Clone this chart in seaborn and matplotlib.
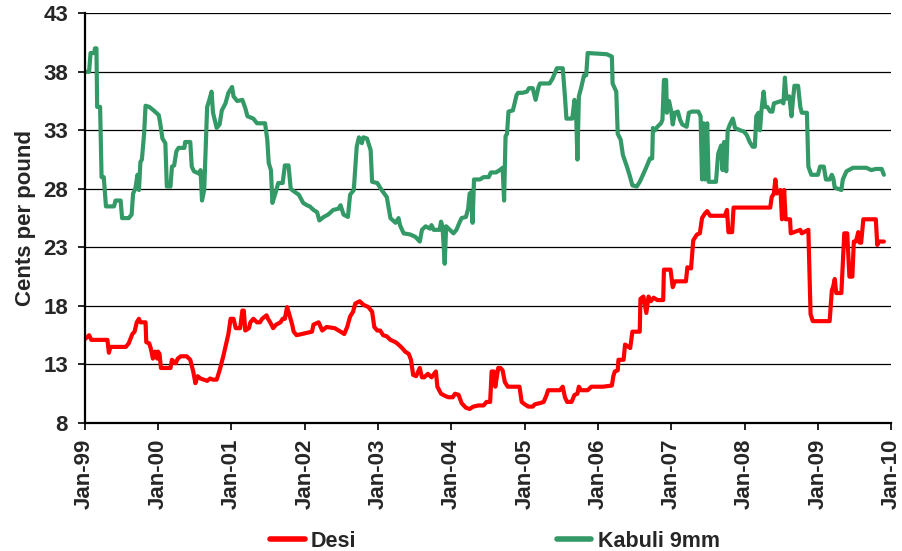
import numpy as np
import pandas as pd
import matplotlib
matplotlib.use("Agg")
import matplotlib.pyplot as plt
import matplotlib.dates as mdates
import seaborn as sns

# decimal-year positions and prices (cents per pound)
kabuli_t = [1999.01, 1999.06, 1999.08, 1999.13, 1999.14, 1999.16, 1999.17, 1999.21, 1999.23, 1999.26,
            1999.29, 1999.40, 1999.42, 1999.49, 1999.51, 1999.60, 1999.64, 1999.66, 1999.69, 1999.72,
            1999.74, 1999.76, 1999.78, 1999.81, 1999.83, 1999.88, 1999.94, 2000.01, 2000.03, 2000.06,
            2000.10, 2000.12, 2000.17, 2000.19, 2000.22, 2000.25, 2000.28, 2000.36, 2000.37, 2000.44,
            2000.46, 2000.49, 2000.56, 2000.58, 2000.60, 2000.63, 2000.67, 2000.70, 2000.73, 2000.75,
            2000.78, 2000.80, 2000.84, 2000.87, 2000.92, 2000.96, 2001.01, 2001.03, 2001.08, 2001.15,
            2001.19, 2001.22, 2001.30, 2001.35, 2001.46, 2001.49, 2001.51, 2001.54, 2001.56, 2001.60,
            2001.64, 2001.70, 2001.73, 2001.78, 2001.81, 2001.85, 2001.92, 2001.98, 2002.03, 2002.07,
            2002.12, 2002.17, 2002.20, 2002.26, 2002.32, 2002.39, 2002.46, 2002.49,
            2002.53, 2002.59, 2002.62, 2002.67, 2002.71, 2002.74, 2002.78, 2002.80, 2002.85, 2002.90,
            2002.92, 2002.99, 2003.05, 2003.12, 2003.17, 2003.24, 2003.28, 2003.30, 2003.35, 2003.44,
            2003.51, 2003.57, 2003.60, 2003.65, 2003.71, 2003.73, 2003.76, 2003.84, 2003.86, 2003.88,
            2003.91, 2003.93, 2003.98, 2004.03, 2004.07, 2004.11, 2004.14, 2004.20, 2004.23, 2004.25,
            2004.27, 2004.29, 2004.31, 2004.39, 2004.44, 2004.51, 2004.54, 2004.61, 2004.66, 2004.70,
            2004.72, 2004.74, 2004.76, 2004.78, 2004.84, 2004.89, 2004.91, 2004.97, 2005.03, 2005.06,
            2005.11, 2005.15, 2005.19, 2005.21, 2005.34, 2005.38, 2005.44, 2005.52, 2005.55, 2005.57,
            2005.65, 2005.68, 2005.70, 2005.72, 2005.74, 2005.77, 2005.81, 2005.84, 2005.86,
            2006.12, 2006.19, 2006.20, 2006.25, 2006.27, 2006.31, 2006.34, 2006.39, 2006.43, 2006.47,
            2006.53, 2006.57, 2006.60, 2006.65, 2006.71, 2006.74, 2006.75, 2006.78, 2006.81, 2006.86,
            2006.88, 2006.90, 2006.93, 2006.94, 2006.97, 2007.00, 2007.02, 2007.05, 2007.09, 2007.12,
            2007.15, 2007.21, 2007.24, 2007.28, 2007.37, 2007.40, 2007.42, 2007.44, 2007.46, 2007.49,
            2007.51, 2007.61, 2007.64, 2007.68, 2007.70, 2007.72, 2007.75, 2007.77, 2007.80, 2007.84,
            2007.87, 2007.94, 2007.99, 2008.03, 2008.07, 2008.11, 2008.14, 2008.16, 2008.19, 2008.21,
            2008.23, 2008.26, 2008.28, 2008.31, 2008.35, 2008.38, 2008.40, 2008.50, 2008.53, 2008.55,
            2008.57, 2008.61, 2008.64, 2008.66, 2008.68, 2008.73, 2008.76, 2008.78, 2008.85, 2008.87,
            2008.91, 2009.00, 2009.03, 2009.08, 2009.11, 2009.16, 2009.19, 2009.21, 2009.23, 2009.32,
            2009.34, 2009.39, 2009.48, 2009.66, 2009.73, 2009.79, 2009.87, 2009.90]
kabuli_v = [38.0, 38.0, 39.6, 39.6, 40.0, 40.0, 35.0, 35.0, 29.0, 29.0,
            26.5, 26.5, 27.0, 27.0, 25.5, 25.5, 25.8, 27.6, 28.0, 29.2,
            27.9, 30.3, 30.5, 32.7, 35.1, 35.0, 34.7, 34.3, 33.6, 32.3,
            31.9, 28.2, 28.2, 29.9, 30.0, 31.2, 31.5, 31.5, 32.0, 32.0,
            29.9, 29.5, 29.3, 29.6, 27.0, 27.9, 35.0, 35.6, 36.3, 34.5,
            33.7, 33.2, 33.5, 34.7, 35.3, 36.2, 36.7, 35.9, 35.5, 35.6,
            34.9, 34.2, 34.0, 33.6, 33.6, 32.2, 30.2, 29.6, 26.8, 27.6,
            28.5, 28.5, 30.0, 30.0, 28.0, 27.8, 27.5, 26.8, 26.6, 26.5,
            26.2, 26.0, 25.3, 25.6, 25.8, 26.2, 26.3, 26.6,
            25.8, 25.6, 27.5, 27.9, 31.6, 32.4, 31.9, 32.4, 32.3, 31.3,
            28.6, 28.5, 27.9, 27.3, 25.5, 25.1, 25.5, 24.9, 24.2, 24.1,
            23.9, 23.5, 24.5, 24.8, 24.6, 24.9, 24.5, 24.5, 25.2, 24.8,
            21.6, 24.8, 24.5, 24.2, 24.5, 25.1, 25.5, 25.6, 26.3, 27.6,
            27.7, 25.1, 28.8, 28.8, 29.0, 29.0, 29.4, 29.4, 29.6, 29.8,
            27.0, 32.5, 32.7, 34.6, 34.7, 36.0, 36.2, 36.2, 36.3, 36.6,
            36.6, 35.6, 36.7, 37.0, 37.0, 37.4, 38.3, 38.3, 35.9, 34.0,
            34.0, 35.6, 35.0, 30.5, 35.9, 36.6, 37.7, 37.7, 39.6,
            39.5, 39.3, 37.0, 36.3, 32.7, 32.2, 30.9, 30.0, 29.2, 28.3,
            28.2, 28.6, 29.0, 29.7, 30.6, 30.6, 33.2, 33.0, 33.3, 33.6,
            33.9, 37.3, 37.3, 34.5, 35.5, 34.6, 33.5, 34.5, 34.6, 33.9,
            33.5, 33.3, 34.5, 34.6, 34.6, 34.2, 28.8, 33.6, 28.8, 33.6,
            28.6, 28.6, 31.0, 31.7, 29.6, 32.0, 29.5, 33.0, 33.5, 34.0,
            33.2, 33.0, 32.9, 32.6, 32.0, 31.6, 31.6, 34.2, 34.5, 33.0,
            34.7, 36.3, 35.0, 35.0, 34.6, 34.6, 35.3, 35.5, 35.3, 37.5,
            35.7, 35.9, 34.2, 35.6, 36.8, 36.8, 35.0, 34.5, 34.5, 29.9,
            29.2, 29.2, 29.9, 29.9, 28.8, 28.8, 29.2, 28.9, 28.1, 27.9,
            28.8, 29.5, 29.8, 29.8, 29.6, 29.7, 29.7, 29.2]

desi_t = [1999.01, 1999.06, 1999.09, 1999.31, 1999.33, 1999.35, 1999.56, 1999.60, 1999.65, 1999.68,
          1999.71, 1999.74, 1999.76, 1999.83, 1999.84, 1999.88, 1999.90, 1999.93, 1999.96, 1999.99,
          2000.00, 2000.02, 2000.04, 2000.17, 2000.19, 2000.24, 2000.27, 2000.31, 2000.39, 2000.44,
          2000.48, 2000.51, 2000.54, 2000.58, 2000.67, 2000.71, 2000.75, 2000.80, 2000.84, 2000.89,
          2000.92, 2000.96, 2000.99, 2001.03, 2001.06, 2001.12, 2001.15, 2001.17, 2001.19, 2001.24,
          2001.26, 2001.30, 2001.35, 2001.39, 2001.42, 2001.48, 2001.50, 2001.53, 2001.57, 2001.61,
          2001.67, 2001.70, 2001.73, 2001.76, 2001.78, 2001.83, 2001.85, 2001.89, 2001.96, 2002.03,
          2002.10, 2002.12, 2002.19, 2002.24, 2002.30, 2002.41,
          2002.49, 2002.54, 2002.58, 2002.62, 2002.66, 2002.69, 2002.75, 2002.80, 2002.87, 2002.92,
          2002.95, 2002.99, 2003.03, 2003.07, 2003.12, 2003.17, 2003.24, 2003.28, 2003.33, 2003.37,
          2003.42, 2003.45, 2003.48, 2003.52, 2003.57, 2003.60, 2003.63, 2003.68, 2003.73, 2003.79,
          2003.81, 2003.86, 2003.92, 2003.96, 2004.02, 2004.05, 2004.10, 2004.14, 2004.20, 2004.25,
          2004.30, 2004.37, 2004.44, 2004.48, 2004.53, 2004.55, 2004.58, 2004.60, 2004.64, 2004.67,
          2004.70, 2004.73, 2004.77, 2004.93, 2004.96, 2005.00, 2005.05, 2005.11, 2005.14, 2005.21,
          2005.26, 2005.30, 2005.32, 2005.48, 2005.52, 2005.55, 2005.58, 2005.64, 2005.68, 2005.72,
          2005.74, 2005.77, 2005.86, 2005.91, 2006.07, 2006.19,
          2006.21, 2006.23, 2006.27, 2006.28, 2006.35, 2006.37, 2006.44, 2006.47, 2006.57, 2006.58,
          2006.62, 2006.66, 2006.69, 2006.72, 2006.76, 2006.81, 2006.89, 2006.90, 2006.99, 2007.02,
          2007.05, 2007.20, 2007.22, 2007.27, 2007.30, 2007.35, 2007.39, 2007.42, 2007.46, 2007.49,
          2007.53, 2007.73, 2007.76, 2007.78, 2007.83, 2007.85, 2008.35, 2008.37, 2008.40, 2008.42,
          2008.44, 2008.49, 2008.51, 2008.54, 2008.56, 2008.62, 2008.63, 2008.76, 2008.78, 2008.87,
          2008.90, 2008.93, 2009.16, 2009.19, 2009.21, 2009.23, 2009.25, 2009.32, 2009.36, 2009.40,
          2009.43, 2009.47, 2009.49, 2009.52, 2009.55, 2009.57, 2009.59, 2009.62, 2009.79, 2009.81,
          2009.83, 2009.90]
desi_v = [15.2, 15.5, 15.1, 15.1, 14.0, 14.5, 14.5, 14.8, 15.6, 15.8,
          16.6, 16.9, 16.6, 16.6, 14.9, 14.8, 14.4, 13.5, 14.1, 13.5,
          14.1, 13.9, 12.7, 12.7, 13.4, 13.1, 13.5, 13.7, 13.7, 13.4,
          12.4, 11.4, 12.0, 11.8, 11.6, 11.8, 11.7, 11.7, 12.5, 13.7,
          14.5, 15.6, 16.9, 16.9, 16.1, 16.1, 17.6, 17.6, 15.9, 16.1,
          16.6, 16.9, 16.6, 16.6, 16.9, 17.2, 16.9, 16.6, 16.1, 16.4,
          16.6, 16.9, 16.9, 17.9, 17.5, 16.4, 15.8, 15.5, 15.6, 15.7,
          15.8, 16.4, 16.6, 15.9, 16.2, 16.1,
          15.8, 15.6, 16.2, 17.1, 17.5, 18.2, 18.4, 18.1, 17.9, 17.5,
          16.2, 15.9, 15.9, 15.5, 15.4, 15.1, 14.9, 14.7, 14.4, 14.1,
          13.9, 13.4, 12.1, 12.0, 12.7, 11.9, 11.9, 12.2, 11.9, 12.4,
          11.1, 10.5, 10.3, 10.2, 10.2, 10.5, 10.4, 9.7, 9.3, 9.2,
          9.4, 9.5, 9.5, 9.8, 9.8, 12.4, 12.4, 11.1, 12.7, 12.7,
          12.5, 11.5, 11.1, 11.1, 9.8, 9.6, 9.4, 9.4, 9.6, 9.7,
          9.8, 10.4, 10.8, 10.8, 11.1, 10.2, 9.8, 9.8, 10.4, 10.5,
          11.1, 10.8, 10.8, 11.1, 11.1, 11.2,
          12.0, 12.4, 12.5, 13.4, 13.4, 14.7, 14.4, 15.8, 15.8, 18.6,
          18.8, 17.4, 18.8, 18.4, 18.7, 18.5, 18.5, 21.1, 21.1, 19.6,
          20.1, 20.1, 21.3, 21.2, 23.6, 24.1, 24.2, 25.5, 25.9, 26.1,
          25.7, 25.7, 26.2, 24.3, 24.3, 26.4, 26.4, 27.3, 27.6, 28.8,
          27.6, 27.9, 25.4, 27.9, 25.4, 25.4, 24.2, 24.5, 24.2, 24.5,
          17.3, 16.7, 16.7, 19.3, 19.7, 20.3, 19.1, 19.1, 24.2, 24.2,
          20.5, 20.5, 23.5, 23.5, 24.3, 23.4, 23.4, 25.4, 25.4, 23.2,
          23.5, 23.5]

series_names = ["Desi", "Kabuli 9mm"]
colors = ["#FF0000", "#339966"]


def to_dates(t):
    t = np.asarray(t)
    return pd.Timestamp("1999-01-01") + pd.to_timedelta((t - 1999) * 365.25, unit="D")


df = pd.concat([
    pd.DataFrame({"date": to_dates(desi_t), "price": desi_v, "series": series_names[0]}),
    pd.DataFrame({"date": to_dates(kabuli_t), "price": kabuli_v, "series": series_names[1]}),
], ignore_index=True)

sns.set_style("white")
plt.rcParams["font.family"] = ["Liberation Sans", "DejaVu Sans"]
plt.rcParams["font.weight"] = "bold"

fig = plt.figure(figsize=(9.03, 5.51), dpi=100)
ax = fig.add_axes([0.0938, 0.2323, 0.8932, 0.7437])

sns.lineplot(data=df, x="date", y="price", hue="series", palette=dict(zip(series_names, colors)),
             estimator=None, sort=False, linewidth=3, ax=ax, legend=False)

ax.set_ylim(8, 43)
ax.set_yticks(np.arange(8, 44, 5))
ax.set_xlim(pd.Timestamp("1999-01-01"), pd.Timestamp("2010-01-01"))
ax.xaxis.set_major_locator(mdates.YearLocator())
ax.xaxis.set_major_formatter(mdates.DateFormatter("%b-%y"))
plt.setp(ax.get_xticklabels(), rotation=90, fontsize=16, fontweight="bold")
plt.setp(ax.get_yticklabels(), fontsize=16, fontweight="bold")

ax.yaxis.grid(True, color="black", linewidth=0.9)
ax.set_axisbelow(True)
for side in ["top", "right"]:
    ax.spines[side].set_visible(False)
for side in ["left", "bottom"]:
    ax.spines[side].set_color("black")
    ax.spines[side].set_linewidth(1.6)
ax.tick_params(axis="both", direction="out", length=5, width=1.2, color="black", bottom=True, left=True)
ax.tick_params(axis="y", pad=7)
ax.tick_params(axis="x", pad=6)

ax.set_xlabel("")
ax.set_ylabel("Cents per pound", fontsize=16, fontweight="bold", labelpad=5)

handles = [plt.Line2D([], [], color=c, linewidth=4) for c in colors]
fig.legend(handles, series_names, loc="center", bbox_to_anchor=(0.548, 0.018), ncol=2,
           frameon=False, handlelength=1.6, handletextpad=0.3, columnspacing=9.3,
           prop={"size": 15.5, "weight": "bold"})

fig.savefig("out.png", dpi=100)
